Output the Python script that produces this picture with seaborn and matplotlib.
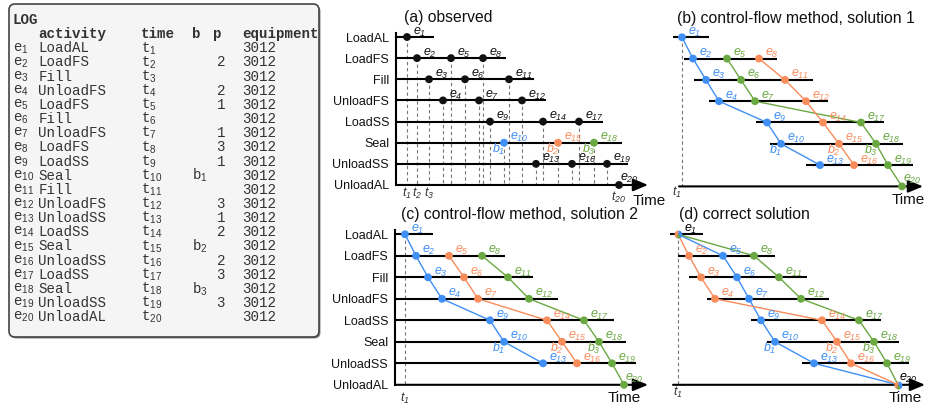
import matplotlib
matplotlib.use("Agg")
import pandas as pd
import matplotlib.pyplot as plt
import seaborn as sns
from matplotlib.patches import FancyBboxPatch

sns.set_theme(style="white")
plt.rcParams["font.family"] = ["Liberation Sans", "DejaVu Sans"]
plt.rcParams["mathtext.fontset"] = "custom"
plt.rcParams["mathtext.rm"] = "Liberation Sans"
plt.rcParams["mathtext.it"] = "Liberation Sans:italic"
plt.rcParams["mathtext.sf"] = "Liberation Sans:italic"

# ---- data ----
activities = ["LoadAL", "LoadFS", "Fill", "UnloadFS", "LoadSS", "Seal", "UnloadSS", "UnloadAL"]
event_act = ["LoadAL", "LoadFS", "Fill", "UnloadFS", "LoadFS", "Fill", "UnloadFS", "LoadFS",
             "LoadSS", "Seal", "Fill", "UnloadFS", "UnloadSS", "LoadSS", "Seal", "UnloadSS",
             "LoadSS", "Seal", "UnloadSS", "UnloadAL"]
log_b = ["", "", "", "", "", "", "", "", "", "1", "", "", "", "", "2", "", "", "3", "", ""]
log_p = ["", "2", "", "2", "1", "", "1", "3", "1", "", "", "3", "1", "2", "", "2", "3", "", "3", ""]
log_equipment = ["3012"] * 20

# event times per panel
time_a = [11, 21, 33, 47, 55, 69, 83, 87, 94, 108, 113, 126, 140, 147, 162, 176, 183, 198, 211, 223]
time_b = [3, 14, 27, 40, 48, 62, 76, 80, 88, 102, 106, 127, 141, 144, 160, 175, 182, 197, 209, 223]
time_c = [10, 21, 33, 47, 54, 69, 83, 87, 95, 109, 113, 134, 148, 152, 167, 182, 189, 204, 217, 229]
time_d = [5, 16, 28, 42, 50, 64, 76, 81, 88, 102, 106, 128, 141, 149, 164, 178, 186, 201, 214, 225]

# extent of each activity line (rows LoadAL..UnloadSS)
span_a = ([0, 0, 0, 0, 0, 0, 0], [38, 110, 138, 150, 207, 226, 232])
span_b = ([-6, 5, 15, 30, 77, 91, 127], [30, 98, 134, 149, 205, 224, 234])
span_c = ([0, 0, 0, 0, 0, 0, 0], [38, 110, 138, 163, 219, 231, 241])
span_d = ([-3, 5, 16, 34, 78, 94, 129], [30, 102, 134, 156, 208, 226, 236])

batch_events = [10, 15, 18]
batch_names = ["blue", "orange", "green"]

chains_b = {"blue": [1, 2, 3, 4, 9, 10, 13], "green": [5, 6, 7, 17, 18, 19, 20],
            "orange": [8, 11, 12, 14, 15, 16]}
chains_c = {"blue": [1, 2, 3, 4, 9, 10, 13], "orange": [5, 6, 7, 14, 15, 16],
            "green": [8, 11, 12, 17, 18, 19, 20]}
chains_d = {"blue": [1, 5, 6, 7, 9, 10, 13, 20], "orange": [1, 2, 3, 4, 14, 15, 16, 20],
            "green": [1, 8, 11, 12, 17, 18, 19, 20]}

palette = {"blue": "#3f8ff5", "orange": "#f98c5b", "green": "#6aa842", "black": "#111111"}

W, H = 925, 407
fig = plt.figure(figsize=(W / 100, H / 100), dpi=100)

# ---- log table ----
axl = fig.add_axes([0, 0, 1, 1])
axl.set_xlim(0, W)
axl.set_ylim(H, 0)
axl.axis("off")
axl.add_patch(FancyBboxPatch((10.5, 5.5), 310, 333, boxstyle="round,pad=0,rounding_size=6",
                             fc="#8a8a8a", ec="none"))
axl.add_patch(FancyBboxPatch((9, 4), 310, 333, boxstyle="round,pad=0,rounding_size=6",
                             fc="#f5f5f5", ec="#444444", lw=1.2))
mono = dict(family="Liberation Mono", fontsize=10.2, color="#333333", va="center")
axl.text(12.7, 20, "LOG", weight="bold", **mono)
for x, h in zip([38.3, 140.7, 191.7, 213, 242.3], ["activity", "time", "b", "p", "equipment"]):
    axl.text(x, 34, h, weight="bold", **mono)
for i in range(20):
    y = 48.3 + 14.15 * i
    axl.text(12.7, y, "e$_{%d}$" % (i + 1), **mono)
    axl.text(38.3, y, event_act[i], **mono)
    axl.text(140.7, y, "t$_{%d}$" % (i + 1), **mono)
    if log_b[i]:
        axl.text(191.7, y, "b$_{%s}$" % log_b[i], **mono)
    axl.text(216.5, y, log_p[i], **mono)
    axl.text(242.3, y, log_equipment[i], **mono)


def elabel(i):
    return r"$\mathit{e}_{\mathsf{%d}}$" % i


def draw_panel(key, title, times, span, chains, x0, y0, dy, xmax, ylabels, tlabels,
               title_x, time_xy, tl_row):
    ax = fig.add_axes([x0 / W, 1 - (y0 + 7 * dy) / H, xmax / W, 7.2 * dy / H])
    ax.patch.set_visible(False)
    rows = [activities.index(a) for a in event_act]

    # colour of each event
    col = ["black"] * 20
    if chains is None:
        for e, c in zip(batch_events, batch_names):
            col[e - 1] = c
    else:
        for c, seq in chains.items():
            for e in seq:
                col[e - 1] = c

    # activity lines
    ax.hlines(range(7), span[0], span[1], color="black", lw=1.5, zorder=2, clip_on=False)
    ax.annotate("", xy=(xmax, 7), xytext=(0, 7), annotation_clip=False,
                arrowprops=dict(arrowstyle="-|>,head_length=0.6,head_width=0.25", color="black",
                                lw=1.5, mutation_scale=15, shrinkA=0, shrinkB=0))

    # dashed time markers
    dashed = range(19) if key == "a" else [0]
    for k in dashed:
        ax.plot([times[k], times[k]], [rows[k], 7], color="#777777", lw=0.8,
                ls=(0, (3, 2.5)), zorder=1)

    # chains
    if chains is not None:
        recs = []
        for c, seq in chains.items():
            for e in seq:
                recs.append({"chain": c, "t": times[e - 1], "row": rows[e - 1]})
        cdf = pd.DataFrame(recs)
        sns.lineplot(data=cdf, x="t", y="row", hue="chain", palette=palette, sort=False,
                     estimator=None, legend=False, lw=1.0, ax=ax, zorder=3)

    # events
    edf = pd.DataFrame({"t": times, "row": rows, "col": col})
    multi = [0, 19] if key == "d" else []
    edf_plot = edf.drop(index=multi)
    sns.scatterplot(data=edf_plot, x="t", y="row", hue="col", palette=palette, s=32,
                    linewidth=0, legend=False, ax=ax, zorder=5, clip_on=False)
    for k in multi:
        ax.plot(times[k], rows[k], marker="o", ms=5.7, fillstyle="left", mec="none",
                mfc=palette["orange"], mfcalt=palette["blue"], zorder=6, clip_on=False)
        ax.plot(times[k], rows[k] + 0.08, marker="o", ms=2.5, mec="none",
                mfc=palette["green"], zorder=7, clip_on=False)

    # labels
    for k in range(20):
        lc = "black" if k in multi else palette[col[k]]
        off = (0.5, 3.0) if k == 19 else (4.5, 1.8)
        ax.annotate(elabel(k + 1), (times[k], rows[k]), xytext=off,
                    textcoords="offset points", ha="left", va="baseline", fontsize=9,
                    color=lc, zorder=6, annotation_clip=False)
    for e, n in zip(batch_events, ["1", "2", "3"]):
        ax.annotate(r"$\mathit{b}_{\mathsf{%s}}$" % n, (times[e - 1], rows[e - 1]),
                    xytext=(-8.3, -7.2), textcoords="offset points", ha="left",
                    va="baseline", fontsize=9, color=palette[col[e - 1]],
                    annotation_clip=False)
    for k, row in zip(tlabels, tl_row):
        ax.text(times[k - 1] + (-5 if key == "b" else 0), row, r"$\mathit{t}_{\mathsf{%d}}$" % k,
                ha="center", va="center", fontsize=9, color="#333333")

    ax.text(title_x, -0.9, title, ha="left", va="center", fontsize=11.3, color="#111111")
    ax.text(time_xy[0], time_xy[1], "Time", ha="center", va="center", fontsize=11,
            color="#111111")

    ax.set_xlim(0, xmax)
    ax.set_ylim(7, -0.2)
    ax.set_xticks([])
    ax.set_xlabel("")
    ax.set_ylabel("")
    for s in ["top", "right", "bottom"]:
        ax.spines[s].set_visible(False)
    if ylabels:
        ax.spines["left"].set_color("black")
        ax.spines["left"].set_linewidth(1.5)
        ax.set_yticks(range(8))
        ax.set_yticklabels(activities)
        ax.tick_params(axis="y", length=0, pad=5, labelsize=9, labelcolor="#111111")
    else:
        ax.spines["left"].set_visible(False)
        ax.set_yticks([])
    return ax


draw_panel("a", "(a) observed", time_a, span_a, None, 396, 37.0, 21.14, 252, True,
           [1, 2, 3, 20], 8, (253, 7.76), [7.38, 7.38, 7.38, 7.57])
draw_panel("b", "(b) control-flow method, solution 1", time_b, span_b, chains_b, 679, 37.3, 21.3,
           244, False, [1], -2, (229, 7.64), [7.27])
draw_panel("c", "(c) control-flow method, solution 2", time_c, span_c, chains_c, 395, 234.3, 21.5,
           253, True, [1], 6, (229, 7.6), [7.65])
draw_panel("d", "(d) correct solution", time_d, span_d, chains_d, 673, 234.3, 21.5, 252, False,
           [1], 6, (232, 7.6), [7.36])

fig.savefig("out.png", dpi=100)
